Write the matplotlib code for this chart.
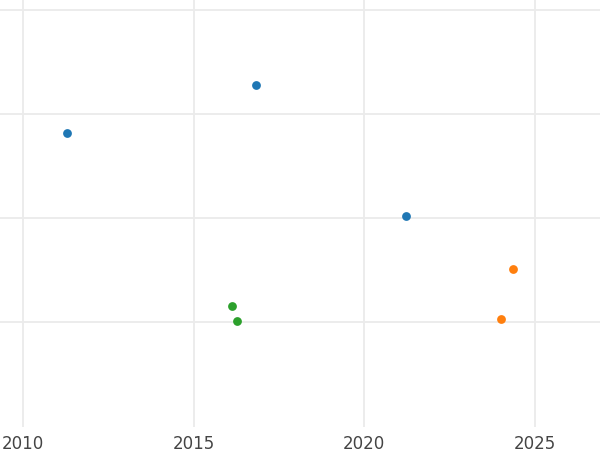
import matplotlib.pyplot as plt

blue_x = [2011.28, 2016.83, 2021.22]
blue_y = [1.82, 2.28, 1.02]
orange_x = [2024.35, 2024.0]
orange_y = [0.505, 0.028]
green_x = [2016.12, 2016.28]
green_y = [0.155, 0.01]

x_ticks = [2010, 2015, 2020, 2025]
y_ticks = [0, 1, 2, 3]


def _main():
    fig = plt.figure(figsize=(6, 4.5), dpi=100)
    ax = fig.add_axes([0, 0.051, 1, 0.949])

    for xs, ys, color in [(blue_x, blue_y, '#1f77b4'),
                          (orange_x, orange_y, '#ff7f0e'),
                          (green_x, green_y, '#2ca02c')]:
        ax.scatter(xs, ys, s=40, color=color, zorder=3, linewidths=0)

    ax.set_xlim(2009.33, 2026.9)
    ax.set_ylim(-1.01, 3.096)
    ax.set_xticks(x_ticks)
    ax.set_yticks(y_ticks)
    ax.set_yticklabels([])
    ax.grid(True, color='#ebebeb', linewidth=1.3)
    ax.set_axisbelow(True)
    ax.tick_params(length=0, labelsize=12, labelcolor='#444444', pad=6)
    for spine in ax.spines.values():
        spine.set_visible(False)

    fig.savefig('out.png', dpi=100)


if __name__ == '__main__':
    _main()
